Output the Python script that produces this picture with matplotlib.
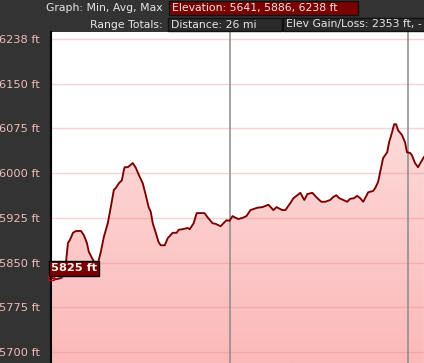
import numpy as np
import matplotlib
matplotlib.use("Agg")
import matplotlib.pyplot as plt
from matplotlib.colors import LinearSegmentedColormap
from matplotlib.patches import Rectangle

# ─── Data ─────────────────────────────────────────────────────────────────────
distance_mi = [
    0.006, 0.028, 0.056, 0.073, 0.084, 0.095, 0.106, 0.123, 0.140, 0.168,
    0.184, 0.201, 0.212, 0.229, 0.251, 0.263, 0.279, 0.296, 0.318, 0.335,
    0.352, 0.363, 0.380, 0.397, 0.408, 0.413, 0.430, 0.447, 0.458, 0.475,
    0.492, 0.514, 0.531, 0.547, 0.559, 0.570, 0.587, 0.603, 0.615, 0.637,
    0.654, 0.682, 0.704, 0.715, 0.737, 0.765, 0.777, 0.799, 0.816, 0.849,
    0.860, 0.877, 0.905, 0.922, 0.950, 0.966, 0.983, 1.000, 1.017, 1.034,
    1.050, 1.073, 1.095, 1.117, 1.156, 1.184, 1.201, 1.218, 1.246, 1.263,
    1.296, 1.313, 1.341, 1.358, 1.380, 1.397, 1.413, 1.419, 1.436, 1.464,
    1.492, 1.514, 1.536, 1.564, 1.581, 1.598, 1.615, 1.637, 1.659, 1.676,
    1.698, 1.715, 1.732, 1.749, 1.777, 1.804, 1.816, 1.832, 1.849, 1.860,
    1.883, 1.894, 1.911, 1.922, 1.933, 1.944, 1.966, 1.983, 1.994, 2.011,
    2.022, 2.039, 2.056, 2.073, 2.089,
]
elevation_ft = [
    5824, 5822, 5824, 5829, 5851, 5883, 5888, 5900, 5903, 5903,
    5896, 5883, 5868, 5858, 5846, 5849, 5868, 5893, 5916, 5943,
    5972, 5975, 5983, 5988, 6005, 6010, 6010, 6014, 6017, 6009,
    5997, 5983, 5963, 5943, 5935, 5916, 5900, 5884, 5879, 5879,
    5891, 5900, 5900, 5905, 5906, 5908, 5906, 5916, 5933, 5933,
    5933, 5926, 5916, 5915, 5911, 5916, 5921, 5920, 5928, 5925,
    5923, 5925, 5928, 5938, 5942, 5943, 5945, 5947, 5938, 5943,
    5938, 5938, 5950, 5958, 5963, 5967, 5958, 5955, 5965, 5967,
    5958, 5952, 5952, 5955, 5960, 5963, 5958, 5955, 5952, 5957,
    5958, 5962, 5958, 5952, 5968, 5970, 5975, 5985, 6009, 6025,
    6035, 6052, 6069, 6082, 6082, 6072, 6064, 6052, 6035, 6034,
    6030, 6017, 6010, 6019, 6027,
]

grid_ticks   = [5700, 5775, 5850, 5925, 6000, 6075, 6150, 6225]
tick_labels  = ["5700 ft", "5775 ft", "5850 ft", "5925 ft",
                "6000 ft", "6075 ft", "6150 ft", "6238 ft"]
mile_marks   = [1, 2]

cursor_mi, cursor_ft = 0.0, 5825
cursor_label = "5825 ft"

header_stats = "Elevation: 5641, 5886, 6238 ft"
header_dist  = "Distance: 26 mi"
header_gain  = "Elev Gain/Loss: 2353 ft, -"

# ─── Figure ───────────────────────────────────────────────────────────────────
W, H = 424, 363
BG = "#333333"
fig = plt.figure(figsize=(W / 100, H / 100), dpi=100, facecolor=BG)


def fx(px):
    return px / W


def fy(py):
    return 1 - py / H


ax = fig.add_axes([fx(51), 0, fx(W - 51), 1 - 32 / H])
ax.set_facecolor("white")
ax.set_xlim(0, 2.0894)
ax.set_ylim(5681.6, 6236.7)

# gradient fill under the profile
pink = LinearSegmentedColormap.from_list("pink", ["#fbb9b9", "#ffe6e6"])
grad = np.linspace(0, 1, 256).reshape(-1, 1)
im = ax.imshow(grad, extent=[0, 2.0894, 5681.6, 6236.7], origin="lower",
               aspect="auto", cmap=pink, zorder=1)
poly = ax.fill_between(distance_mi, elevation_ft, 5600,
                       facecolor="none", edgecolor="none")
im.set_clip_path(poly.get_paths()[0], transform=ax.transData)

for t in grid_ticks:
    ax.axhline(t, color="#f08080", alpha=0.35, lw=1.0, zorder=2)
for m in mile_marks:
    ax.axvline(m, color="#8a8a8a", lw=1.1, zorder=3)

ax.plot(distance_mi, elevation_ft, color="#7a0000", lw=1.35, zorder=4)

ax.set_yticks(grid_ticks)
ax.set_yticklabels(tick_labels)
ax.set_xticks([])
ax.tick_params(axis="y", length=0, pad=8, labelsize=8.2, labelcolor="#f0bcbc")
for side in ["top", "right", "bottom"]:
    ax.spines[side].set_visible(False)
ax.spines["left"].set_color("black")
ax.spines["left"].set_linewidth(1.5)

# cursor marker + label
ax.plot([cursor_mi], [cursor_ft], marker="s", ms=4.5, mfc="none",
        mec="#d00000", mew=1, clip_on=False, zorder=6)
ax.annotate(cursor_label, xy=(cursor_mi, cursor_ft), xytext=(0, 4),
            textcoords="offset pixels", ha="left", va="bottom",
            fontsize=8.2, fontweight="bold", color="#f4f4f4", zorder=7,
            annotation_clip=False,
            bbox=dict(boxstyle="square,pad=0.18", fc="#7a0000", ec="black", lw=1))

# ─── Header ───────────────────────────────────────────────────────────────────
def box(x0, y0, x1, y1, fc):
    fig.patches.append(Rectangle((fx(x0), fy(y1)), fx(x1 - x0), (y1 - y0) / H,
                                 transform=fig.transFigure, fc=fc,
                                 ec="#111111", lw=1))


box(169, 1, 358, 15, "#7a0000")
box(168, 18, 282, 31, "#2a2a2a")
box(283, 18, 430, 31, "#2a2a2a")

txt = dict(fontsize=7.8, color="#e6e6e6", va="center")
fig.text(fx(163), fy(8), "Graph: Min, Avg, Max", ha="right", **txt)
fig.text(fx(163), fy(24.5), "Range Totals:", ha="right", **txt)
fig.text(fx(172), fy(8), header_stats, ha="left", **txt)
fig.text(fx(171), fy(24.5), header_dist, ha="left", **txt)
fig.text(fx(286), fy(24.5), header_gain, ha="left", **txt)

fig.savefig("out.png", dpi=100, facecolor=BG)
